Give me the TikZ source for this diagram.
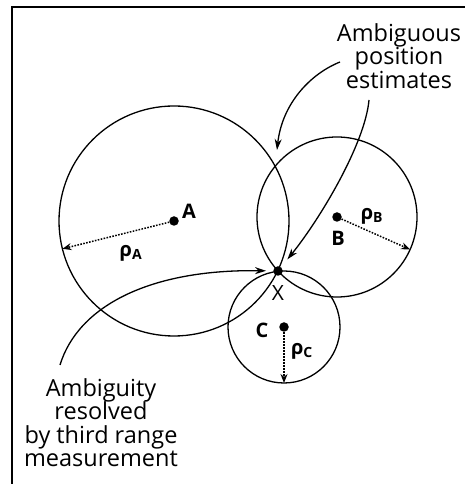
\documentclass[tikz,border=0pt]{standalone}
\usepackage{fontspec}
\setmainfont{Open Sans}
\usetikzlibrary{arrows.meta,calc}

\begin{document}
\begin{tikzpicture}[x=1pt,y=1pt,
    station/.style={circle,fill=black,inner sep=0pt,minimum size=9.5pt},
    rangecircle/.style={line width=1.3pt},
    rangeline/.style={line width=1.5pt,dash pattern=on 1.6pt off 1.4pt,-{Stealth[length=9pt,width=7pt]}},
    pointer/.style={line width=1.3pt,-{Stealth[length=11pt,width=7pt]}},
    letter/.style={font=\fontsize{20}{22}\selectfont\bfseries,inner sep=0pt},
    caption/.style={font=\fontsize{23.5}{23.5}\selectfont,align=center,inner sep=0pt}]
  \useasboundingbox (0,0) rectangle (465,484);
  % frame, only top and left edges show
  \draw[line width=2.5pt] (12,0) -- (12,477) -- (465,477);
  % stations and the fix
  \node[station] (A) at (174,263) {};
  \node[station] (B) at (337,267) {};
  \node[station] (C) at (284,157) {};
  \node[station] (X) at (278,213) {};
  % range circles
  \draw[rangecircle] (A.center) circle[radius=115pt];
  \draw[rangecircle] (B.center) circle[radius=80pt];
  \draw[rangecircle] (C.center) circle[radius=56pt];
  % ranges
  \coordinate (rA) at ($(A.center)+(194:115pt)$);
  \coordinate (rB) at ($(B.center)+(-24:80pt)$);
  \coordinate (rC) at ($(C.center)+(-90:56pt)$);
  \draw[rangeline] (A) -- (rA);
  \draw[rangeline] (B) -- (rB);
  \draw[rangeline] (C) -- (rC);
  % labels
  \node[letter] (labA) at (189,273) {A};
  \node[letter] (labB) at (338,246) {B};
  \node[letter] (labC) at (262,154) {C};
  \node[letter,font=\fontsize{21}{22}\selectfont] (labX) at (278,191) {X};
  \node[letter] (rhoA) at (131,231) {ρ\textsubscript{A}};
  \node[letter] (rhoB) at (372,268) {ρ\textsubscript{B}};
  \node[letter] (rhoC) at (302,133) {ρ\textsubscript{C}};
  % captions
  \node[caption,anchor=north] (ambig) at (399,461) {Ambiguous\\position\\estimates};
  \node[caption,anchor=north] (resolved) at (101,106) {Ambiguity\\resolved\\by third range\\measurement};
  % pointers
  \coordinate (ambtail) at (340,422);
  \coordinate (ambtip) at (277,334);
  \coordinate (esttail) at (369,384);
  \coordinate (restail) at (60,119);
  \draw[pointer] (ambtail) .. controls (310,410) and (282,380) .. (ambtip);
  \draw[pointer,shorten >=10pt] (esttail) .. controls (365,340) and (320,265) .. (X);
  \draw[pointer,shorten >=7pt] (restail) .. controls (78,178) and (150,215) .. (X);
\end{tikzpicture}
\end{document}
